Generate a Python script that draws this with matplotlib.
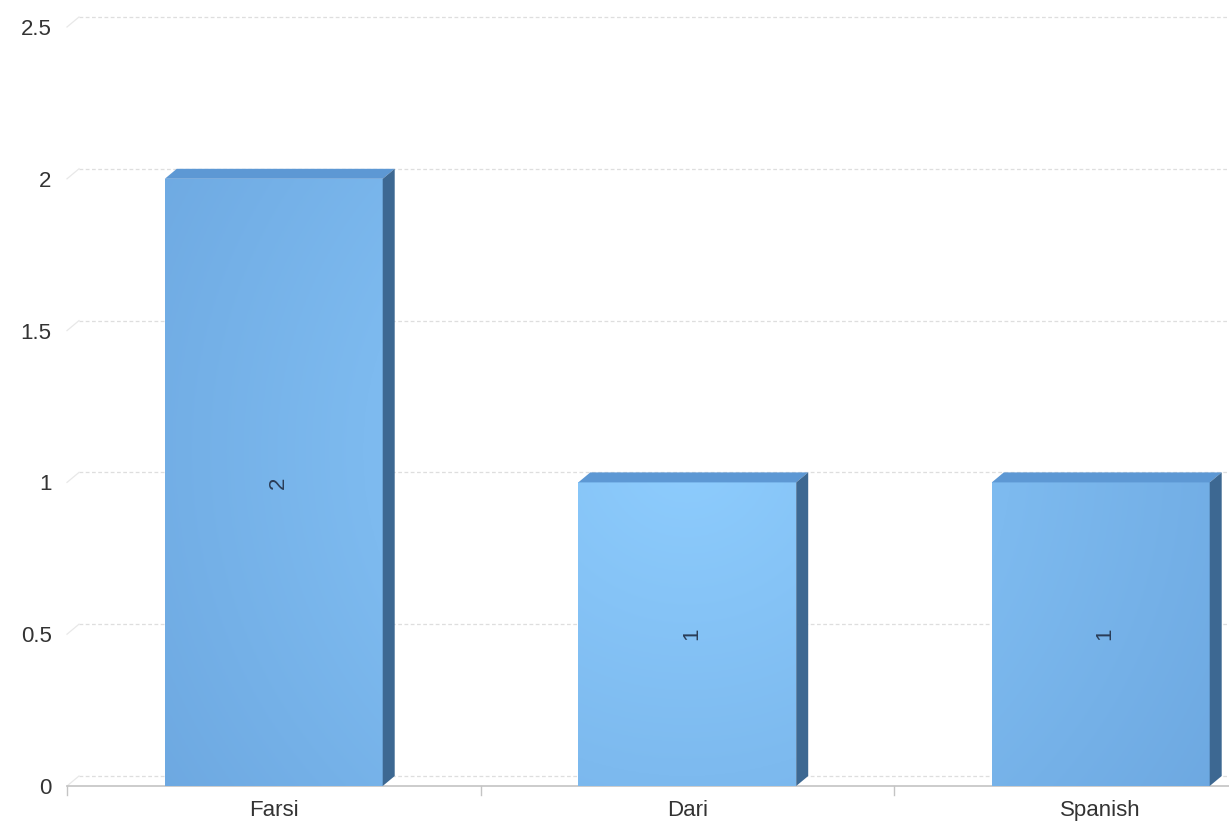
import numpy as np
import matplotlib
matplotlib.use("Agg")
import matplotlib.pyplot as plt
from matplotlib.patches import Polygon, Rectangle
from matplotlib.colors import to_rgb

# datos del grafico
idiomas = ["Farsi", "Dari", "Spanish"]
valores = [2, 1, 1]
ticks_y = [0, 0.5, 1, 1.5, 2, 2.5]
etiquetas_y = ["0", "0.5", "1", "1.5", "2", "2.5"]

plt.rcParams['font.family'] = ['Liberation Sans', 'DejaVu Sans']

W, H = 1229, 836
fig = plt.figure(figsize=(W / 100, H / 100), dpi=100)
fig.patch.set_facecolor("white")

# ejes: la parte derecha sale un poco de la imagen, como en el original
x0, y0 = 67, 50
ancho_cat = 413.5
alto = 759
ax = fig.add_axes([x0 / W, y0 / H, 3 * ancho_cat / W, alto / H])
ax.set_xlim(-0.5, 2.5)
ax.set_ylim(0, 2.5)
for s in ax.spines.values():
    s.set_visible(False)
ax.set_facecolor("none")

# escala pixel -> datos para la profundidad 3D
px_x = ancho_cat
px_y = alto / 2.5
prof_x = 12 / px_x
prof_y = 10 / px_y

gris = "#dedede"
# lineas de la cuadricula sobre el plano del fondo
for v in ticks_y:
    ax.plot([-0.5 + prof_x, 2.5 + prof_x], [v + prof_y, v + prof_y],
            color=gris, lw=0.9, ls=(0, (3, 2)), clip_on=False, zorder=0)
    ax.plot([-0.5, -0.5 + prof_x], [v, v + prof_y],
            color="#e8e8e8", lw=0.9, clip_on=False, zorder=0)

# eje inferior
ax.plot([-0.5, 2.5], [0, 0], color="#c4c4c4", lw=1.2, clip_on=False, zorder=1)
for xt in [-0.5, 0.5, 1.5]:
    ax.plot([xt, xt], [0, -9 / px_y], color="#c4c4c4", lw=1.0, clip_on=False)

ax.set_yticks(ticks_y)
ax.set_yticklabels(etiquetas_y)
ax.set_xticks(range(len(idiomas)))
ax.set_xticklabels(idiomas)
ax.tick_params(axis="both", length=0, labelsize=16, colors="#333333")
ax.tick_params(axis="y", pad=11)
ax.tick_params(axis="x", pad=10)

# degradado radial para la cara frontal
c_claro = np.array(to_rgb("#8ecdfe"))
c_oscuro = np.array(to_rgb("#6ca7e0"))
xs = np.linspace(-0.5, 2.5, 400)
ys = np.linspace(0, 2.5, 300)
XX, YY = np.meshgrid(xs, ys)
dist = np.hypot((XX - 1.0) * px_x, (YY - 1.1) * px_y)
t = np.clip(dist / 650, 0, 1)[..., None]
grad = c_claro * (1 - t) + c_oscuro * t

ancho_barra = 0.527
for i, v in enumerate(valores):
    izq = i - ancho_barra / 2
    der = i + ancho_barra / 2
    frente = Rectangle((izq, 0), ancho_barra, v, facecolor="none", edgecolor="none")
    ax.add_patch(frente)
    im = ax.imshow(grad, extent=(-0.5, 2.5, 0, 2.5), origin="lower",
                   aspect="auto", zorder=2)
    im.set_clip_path(frente)
    # cara superior
    ax.add_patch(Polygon([(izq, v), (der, v), (der + prof_x, v + prof_y),
                          (izq + prof_x, v + prof_y)],
                         closed=True, facecolor="#5d98d4", edgecolor="none",
                         zorder=3, clip_on=False))
    # cara lateral
    ax.add_patch(Polygon([(der, 0), (der, v), (der + prof_x, v + prof_y),
                          (der + prof_x, prof_y)],
                         closed=True, facecolor="#3d6892", edgecolor="none",
                         zorder=3, clip_on=False))
    ax.text(i + 0.01, v / 2, str(v), rotation=90, ha="center", va="center",
            fontsize=16, color="#2b3d57", zorder=4)

ax.set_xlim(-0.5, 2.5)
ax.set_ylim(0, 2.5)

fig.savefig("out.png", dpi=100)
